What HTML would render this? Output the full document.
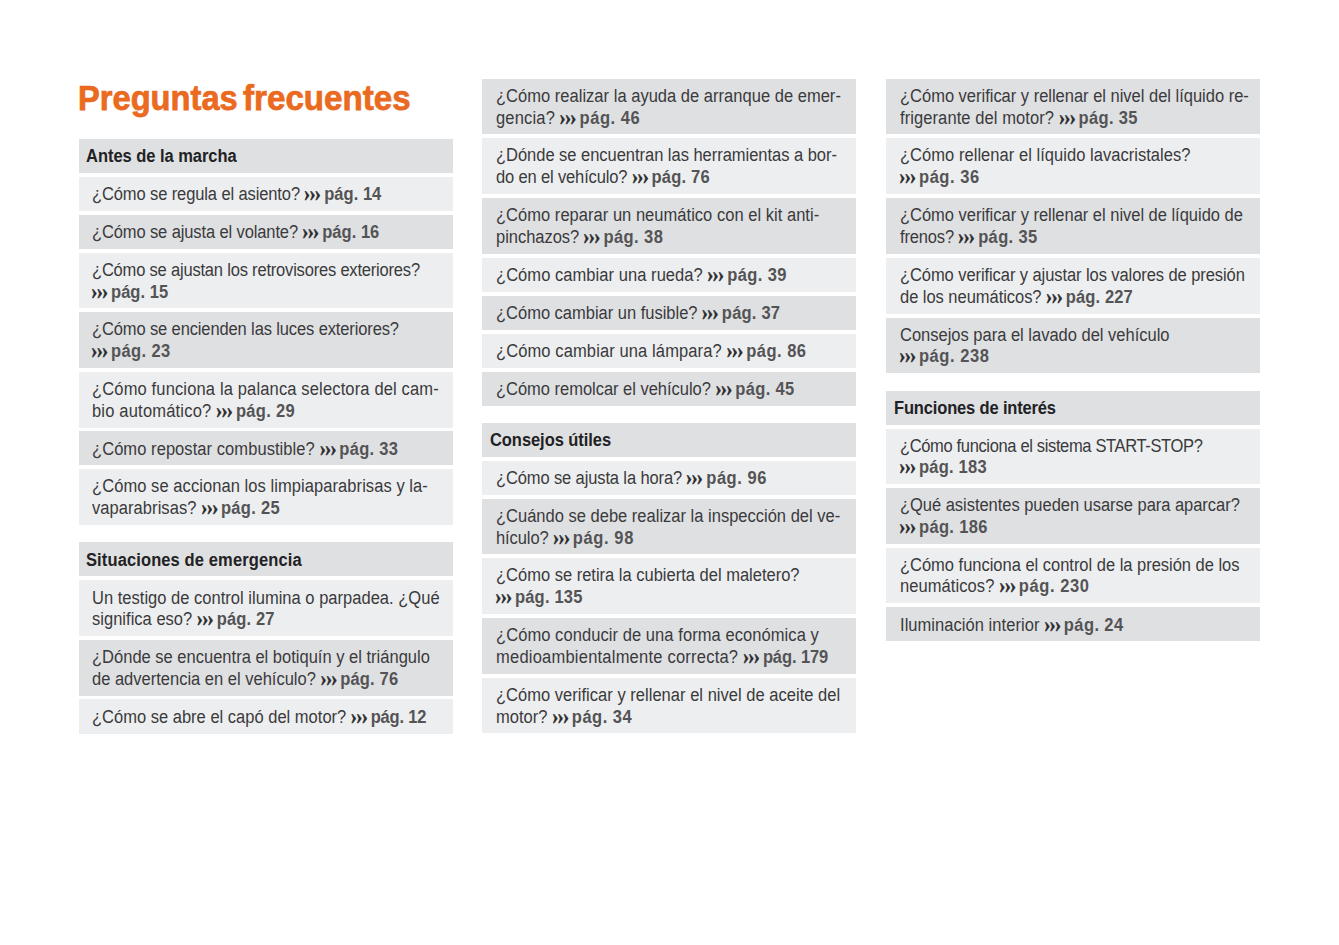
<!DOCTYPE html>
<html lang="es">
<head>
<meta charset="utf-8">
<title>Preguntas frecuentes</title>
<style>
html,body{margin:0;padding:0;background:#fff;}
body{width:1339px;height:945px;position:relative;overflow:hidden;font-family:"Liberation Sans",sans-serif;color:#3a3a3c;}
h1{position:absolute;left:0;top:77.5px;margin:0;font-size:35.5px;line-height:40px;font-weight:bold;color:#ea6a1f;white-space:nowrap;-webkit-text-stroke:0.75px #ea6a1f;}
h1 span{position:absolute;top:0;display:inline-block;transform-origin:0 50%;}
.b{position:absolute;width:374px;box-sizing:border-box;font-size:18px;line-height:20px;white-space:nowrap;}
.h{font-weight:bold;color:#222224;}
.d{background:#dfe0e2;}
.l{background:#edeeef;}
.ln{position:absolute;display:block;transform-origin:0 50%;width:max-content;transform:scaleX(.917);}
.p{font-weight:bold;color:#545456;}
.c{display:inline-block;position:relative;width:21.6px;height:1px;margin-left:0px;vertical-align:baseline;}
.c i{position:absolute;left:-0.45px;bottom:6.9px;font:bold 24px/0 "Liberation Serif",serif;font-style:normal;letter-spacing:-1.25px;color:#2a2a2c;-webkit-text-stroke:0.45px #2a2a2c;transform:scaleX(.872);transform-origin:0 100%;white-space:nowrap;}
</style>
</head>
<body>
<h1><span style="left:78px;transform:scaleX(0.920)">Preguntas</span> <span style="left:243.2px;transform:scaleX(0.934)">frecuentes</span></h1>
<div class="b h d" style="left:79px;top:139px;height:34px"><span class="ln" style="left:7.4px;top:7px"><span class="q" style="letter-spacing:-0.040px">Antes de la marcha</span></span></div>
<div class="b l" style="left:79px;top:177px;height:34px"><span class="ln" style="left:12.8px;top:7px"><span class="q" style="letter-spacing:-0.123px">¿Cómo se regula el asiento? </span><span class="p"><span class="c"><i>›››</i></span><span class="n" style="letter-spacing:0.026px">pág. 14</span></span></span></div>
<div class="b d" style="left:79px;top:215px;height:34px"><span class="ln" style="left:12.8px;top:7px"><span class="q" style="letter-spacing:-0.129px">¿Cómo se ajusta el volante? </span><span class="p"><span class="c"><i>›››</i></span><span class="n" style="letter-spacing:0.026px">pág. 16</span></span></span></div>
<div class="b l" style="left:79px;top:253px;height:55px"><span class="ln" style="left:12.8px;top:7px"><span class="q" style="letter-spacing:-0.213px">¿Cómo se ajustan los retrovisores exteriores?</span></span><span class="ln" style="left:12.8px;top:29px"><span style="margin-left:-0.9px"></span><span class="p"><span class="c"><i>›››</i></span><span class="n" style="letter-spacing:0.068px">pág. 15</span></span></span></div>
<div class="b d" style="left:79px;top:312px;height:56px"><span class="ln" style="left:12.8px;top:7px"><span class="q" style="letter-spacing:-0.137px">¿Cómo se encienden las luces exteriores?</span></span><span class="ln" style="left:12.8px;top:29px"><span style="margin-left:-0.9px"></span><span class="p"><span class="c"><i>›››</i></span><span class="n" style="letter-spacing:0.426px">pág. 23</span></span></span></div>
<div class="b l" style="left:79px;top:372px;height:56px"><span class="ln" style="left:12.8px;top:7px"><span class="q" style="letter-spacing:0.161px">¿Cómo funciona la palanca selectora del cam-</span></span><span class="ln" style="left:12.8px;top:29px"><span class="q" style="letter-spacing:0.206px">bio automático? </span><span class="p"><span class="c"><i>›››</i></span><span class="n" style="letter-spacing:0.322px">pág. 29</span></span></span></div>
<div class="b d" style="left:79px;top:431px;height:34px"><span class="ln" style="left:12.8px;top:8px"><span class="q" style="letter-spacing:0.069px">¿Cómo repostar combustible? </span><span class="p"><span class="c"><i>›››</i></span><span class="n" style="letter-spacing:0.337px">pág. 33</span></span></span></div>
<div class="b l" style="left:79px;top:469px;height:56px"><span class="ln" style="left:12.8px;top:7px"><span class="q" style="letter-spacing:0.072px">¿Cómo se accionan los limpiaparabrisas y la-</span></span><span class="ln" style="left:12.8px;top:29px"><span class="q" style="letter-spacing:0.068px">vaparabrisas? </span><span class="p"><span class="c"><i>›››</i></span><span class="n" style="letter-spacing:0.322px">pág. 25</span></span></span></div>
<div class="b h d" style="left:79px;top:542px;height:34px"><span class="ln" style="left:7.4px;top:8px"><span class="q" style="letter-spacing:0.126px">Situaciones de emergencia</span></span></div>
<div class="b l" style="left:79px;top:580px;height:56px"><span class="ln" style="left:12.8px;top:8px"><span class="q" style="letter-spacing:0.018px">Un testigo de control ilumina o parpadea. ¿Qué</span></span><span class="ln" style="left:12.8px;top:29px"><span class="q" style="letter-spacing:0.018px">significa eso? </span><span class="p"><span class="c"><i>›››</i></span><span class="n" style="letter-spacing:0.166px">pág. 27</span></span></span></div>
<div class="b d" style="left:79px;top:640px;height:56px"><span class="ln" style="left:12.8px;top:7px"><span class="q" style="letter-spacing:0.005px">¿Dónde se encuentra el botiquín y el triángulo</span></span><span class="ln" style="left:12.8px;top:29px"><span class="q" style="letter-spacing:-0.001px">de advertencia en el vehículo? </span><span class="p"><span class="c"><i>›››</i></span><span class="n" style="letter-spacing:0.182px">pág. 76</span></span></span></div>
<div class="b l" style="left:79px;top:699px;height:35px"><span class="ln" style="left:12.8px;top:8px"><span class="q" style="letter-spacing:0.004px">¿Cómo se abre el capó del motor? </span><span class="p"><span class="c"><i>›››</i></span><span class="n" style="letter-spacing:-0.192px">pág. 12</span></span></span></div>
<div class="b d" style="left:482px;top:79px;height:55px"><span class="ln" style="left:14.2px;top:7px"><span class="q" style="letter-spacing:0.021px">¿Cómo realizar la ayuda de arranque de emer-</span></span><span class="ln" style="left:14.2px;top:29px"><span class="q" style="letter-spacing:0.184px">gencia? </span><span class="p"><span class="c"><i>›››</i></span><span class="n" style="letter-spacing:0.587px">pág. 46</span></span></span></div>
<div class="b l" style="left:482px;top:138px;height:56px"><span class="ln" style="left:14.2px;top:7px"><span class="q" style="letter-spacing:-0.033px">¿Dónde se encuentran las herramientas a bor-</span></span><span class="ln" style="left:14.2px;top:29px"><span class="q" style="letter-spacing:-0.162px">do en el vehículo? </span><span class="p"><span class="c"><i>›››</i></span><span class="n" style="letter-spacing:0.228px">pág. 76</span></span></span></div>
<div class="b d" style="left:482px;top:198px;height:56px"><span class="ln" style="left:14.2px;top:7px"><span class="q" style="letter-spacing:0.030px">¿Cómo reparar un neumático con el kit anti-</span></span><span class="ln" style="left:14.2px;top:29px"><span class="q" style="letter-spacing:-0.034px">pinchazos? </span><span class="p"><span class="c"><i>›››</i></span><span class="n" style="letter-spacing:0.431px">pág. 38</span></span></span></div>
<div class="b l" style="left:482px;top:258px;height:34px"><span class="ln" style="left:14.2px;top:7px"><span class="q" style="letter-spacing:0.059px">¿Cómo cambiar una rueda? </span><span class="p"><span class="c"><i>›››</i></span><span class="n" style="letter-spacing:0.431px">pág. 39</span></span></span></div>
<div class="b d" style="left:482px;top:296px;height:34px"><span class="ln" style="left:14.2px;top:7px"><span class="q" style="letter-spacing:-0.015px">¿Cómo cambiar un fusible? </span><span class="p"><span class="c"><i>›››</i></span><span class="n" style="letter-spacing:0.228px">pág. 37</span></span></span></div>
<div class="b l" style="left:482px;top:334px;height:34px"><span class="ln" style="left:14.2px;top:7px"><span class="q" style="letter-spacing:0.119px">¿Cómo cambiar una lámpara? </span><span class="p"><span class="c"><i>›››</i></span><span class="n" style="letter-spacing:0.524px">pág. 86</span></span></span></div>
<div class="b d" style="left:482px;top:372px;height:34px"><span class="ln" style="left:14.2px;top:7px"><span class="q" style="letter-spacing:-0.027px">¿Cómo remolcar el vehículo? </span><span class="p"><span class="c"><i>›››</i></span><span class="n" style="letter-spacing:0.369px">pág. 45</span></span></span></div>
<div class="b h d" style="left:482px;top:423px;height:34px"><span class="ln" style="left:8.1px;top:7px"><span class="q" style="letter-spacing:-0.071px">Consejos útiles</span></span></div>
<div class="b l" style="left:482px;top:461px;height:34px"><span class="ln" style="left:14.2px;top:7px"><span class="q" style="letter-spacing:-0.136px">¿Cómo se ajusta la hora? </span><span class="p"><span class="c"><i>›››</i></span><span class="n" style="letter-spacing:0.587px">pág. 96</span></span></span></div>
<div class="b d" style="left:482px;top:499px;height:55px"><span class="ln" style="left:14.2px;top:7px"><span class="q" style="letter-spacing:0.003px">¿Cuándo se debe realizar la inspección del ve-</span></span><span class="ln" style="left:14.2px;top:29px"><span class="q" style="letter-spacing:-0.102px">hículo? </span><span class="p"><span class="c"><i>›››</i></span><span class="n" style="letter-spacing:0.649px">pág. 98</span></span></span></div>
<div class="b l" style="left:482px;top:558px;height:56px"><span class="ln" style="left:14.2px;top:7px"><span class="q" style="letter-spacing:-0.004px">¿Cómo se retira la cubierta del maletero?</span></span><span class="ln" style="left:14.2px;top:29px"><span style="margin-left:-0.9px"></span><span class="p"><span class="c"><i>›››</i></span><span class="n" style="letter-spacing:0.199px">pág. 135</span></span></span></div>
<div class="b d" style="left:482px;top:618px;height:56px"><span class="ln" style="left:14.2px;top:7px"><span class="q" style="letter-spacing:0.076px">¿Cómo conducir de una forma económica y</span></span><span class="ln" style="left:14.2px;top:29px"><span class="q" style="letter-spacing:0.243px">medioambientalmente correcta? </span><span class="p"><span class="c"><i>›››</i></span><span class="n" style="letter-spacing:-0.098px">pág. 179</span></span></span></div>
<div class="b l" style="left:482px;top:678px;height:55px"><span class="ln" style="left:14.2px;top:7px"><span class="q" style="letter-spacing:0.024px">¿Cómo verificar y rellenar el nivel de aceite del</span></span><span class="ln" style="left:14.2px;top:29px"><span class="q" style="letter-spacing:0.015px">motor? </span><span class="p"><span class="c"><i>›››</i></span><span class="n" style="letter-spacing:0.540px">pág. 34</span></span></span></div>
<div class="b d" style="left:886px;top:79px;height:55px"><span class="ln" style="left:13.9px;top:7px"><span class="q" style="letter-spacing:-0.015px">¿Cómo verificar y rellenar el nivel del líquido re-</span></span><span class="ln" style="left:13.9px;top:29px"><span class="q" style="letter-spacing:0.093px">frigerante del motor? </span><span class="p"><span class="c"><i>›››</i></span><span class="n" style="letter-spacing:0.369px">pág. 35</span></span></span></div>
<div class="b l" style="left:886px;top:138px;height:56px"><span class="ln" style="left:13.9px;top:7px"><span class="q" style="letter-spacing:0.042px">¿Cómo rellenar el líquido lavacristales?</span></span><span class="ln" style="left:13.9px;top:29px"><span style="margin-left:-0.9px"></span><span class="p"><span class="c"><i>›››</i></span><span class="n" style="letter-spacing:0.614px">pág. 36</span></span></span></div>
<div class="b d" style="left:886px;top:198px;height:56px"><span class="ln" style="left:13.9px;top:7px"><span class="q" style="letter-spacing:-0.027px">¿Cómo verificar y rellenar el nivel de líquido de</span></span><span class="ln" style="left:13.9px;top:29px"><span class="q" style="letter-spacing:-0.176px">frenos? </span><span class="p"><span class="c"><i>›››</i></span><span class="n" style="letter-spacing:0.384px">pág. 35</span></span></span></div>
<div class="b l" style="left:886px;top:258px;height:56px"><span class="ln" style="left:13.9px;top:7px"><span class="q" style="letter-spacing:-0.086px">¿Cómo verificar y ajustar los valores de presión</span></span><span class="ln" style="left:13.9px;top:29px"><span class="q" style="letter-spacing:-0.043px">de los neumáticos? </span><span class="p"><span class="c"><i>›››</i></span><span class="n" style="letter-spacing:0.120px">pág. 227</span></span></span></div>
<div class="b d" style="left:886px;top:318px;height:55px"><span class="ln" style="left:13.9px;top:7px"><span class="q" style="letter-spacing:-0.008px">Consejos para el lavado del vehículo</span></span><span class="ln" style="left:13.9px;top:28px"><span style="margin-left:-0.9px"></span><span class="p"><span class="c"><i>›››</i></span><span class="n" style="letter-spacing:0.608px">pág. 238</span></span></span></div>
<div class="b h d" style="left:886px;top:391px;height:34px"><span class="ln" style="left:7.5px;top:7px"><span class="q" style="letter-spacing:-0.175px">Funciones de interés</span></span></div>
<div class="b l" style="left:886px;top:429px;height:55px"><span class="ln" style="left:13.9px;top:7px"><span class="q" style="letter-spacing:-0.385px">¿Cómo funciona el sistema START-STOP?</span></span><span class="ln" style="left:13.9px;top:28px"><span style="margin-left:-0.9px"></span><span class="p"><span class="c"><i>›››</i></span><span class="n" style="letter-spacing:0.240px">pág. 183</span></span></span></div>
<div class="b d" style="left:886px;top:488px;height:56px"><span class="ln" style="left:13.9px;top:7px"><span class="q" style="letter-spacing:-0.039px">¿Qué asistentes pueden usarse para aparcar?</span></span><span class="ln" style="left:13.9px;top:29px"><span style="margin-left:-0.9px"></span><span class="p"><span class="c"><i>›››</i></span><span class="n" style="letter-spacing:0.376px">pág. 186</span></span></span></div>
<div class="b l" style="left:886px;top:548px;height:55px"><span class="ln" style="left:13.9px;top:7px"><span class="q" style="letter-spacing:-0.021px">¿Cómo funciona el control de la presión de los</span></span><span class="ln" style="left:13.9px;top:28px"><span class="q" style="letter-spacing:0.080px">neumáticos? </span><span class="p"><span class="c"><i>›››</i></span><span class="n" style="letter-spacing:0.625px">pág. 230</span></span></span></div>
<div class="b d" style="left:886px;top:607px;height:34px"><span class="ln" style="left:13.9px;top:8px"><span class="q" style="letter-spacing:0.049px">Iluminación interior </span><span class="p"><span class="c"><i>›››</i></span><span class="n" style="letter-spacing:0.431px">pág. 24</span></span></span></div>
</body>
</html>
